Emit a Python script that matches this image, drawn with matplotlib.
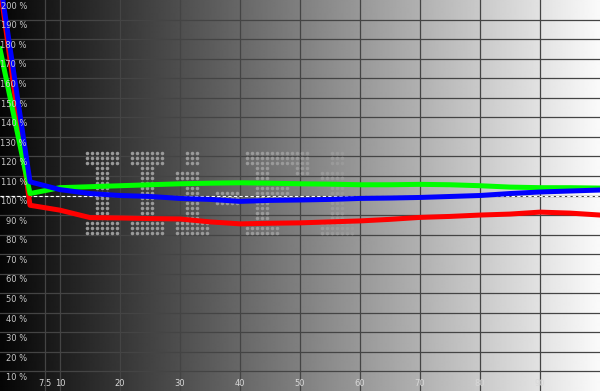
import matplotlib
matplotlib.use("Agg")
import matplotlib.pyplot as plt
import numpy as np

# measured points (x = stimulus level %, y = relative level %)
x_level = [0, 5, 10, 15, 20, 25, 30, 35, 40, 45, 50,
           55, 60, 65, 70, 75, 80, 85, 90, 95, 100]
red = [207, 95, 92.5, 88.7, 88.5, 88.2, 88, 86.5, 85.5, 85.8, 86,
       86.5, 87, 87.8, 88.8, 89.3, 90, 90.5, 91.5, 91, 90]
green = [175, 101, 104, 104.5, 105, 105.5, 106, 106.3, 106.5, 106.3, 106,
         105.8, 105.5, 105.5, 105.7, 105.5, 105, 104.3, 104, 104, 103.8]
blue = [210, 107, 103, 101, 100, 99.5, 98.5, 98, 97, 97.5, 97.7,
        98, 98.5, 98.7, 99, 99.5, 100, 101, 101.8, 102.3, 102.8]

x_ticks = [7.5, 10, 20, 30, 40, 50, 60, 70, 80, 90]
x_tick_labels = ["7.5", "10", "20", "30", "40", "50", "60", "70", "80", "90"]
y_ticks = list(range(10, 210, 10))

# dot-matrix watermark glyphs (17 rows each)
GLYPHS = {
    "I": ["#######"] * 3 + ["..###.."] * 11 + ["#######"] * 3,
    "i": ["..###.."] * 3 + ["......."] + ["#####.."] * 2 +
         ["..###.."] * 8 + ["#######"] * 3,
    "-": ["....."] * 8 + ["#####"] * 3 + ["....."] * 6,
    "F": ["#############"] * 3 + ["..###.....###"] * 2 + ["..###........"] * 2 +
         ["..#######...."] * 3 + ["..###........"] * 4 + ["#######......"] * 3,
}
watermark = [("I", 0), ("I", 9), ("i", 18), ("-", 26), ("F", 32), ("i", 47)]

fig = plt.figure(figsize=(6, 3.91), dpi=100)
ax = fig.add_axes([0, 0, 1, 1])
ax.set_xlim(0, 100)
ax.set_ylim(0, 200)
ax.axis('off')

# black -> white background ramp
grad = np.linspace(0.02, 0.98, 600)[None, :]
ax.imshow(grad, extent=[0, 100, 0, 200], aspect='auto', cmap='gray',
          vmin=0, vmax=1, zorder=0, interpolation='bilinear')

for v in x_ticks:
    ax.axvline(v, color='#444444', lw=0.9, zorder=1)
for v in y_ticks[:-1]:
    ax.axhline(v, color='#444444', lw=0.9, zorder=1)

# watermark dots, 5 px pitch
px_x = 100 / 600
px_y = 200 / 391
wx0, wy0 = 86.7 * px_x, 200 - 153.3 * px_y
dx, dy = [], []
for ch, off in watermark:
    for r, row in enumerate(GLYPHS[ch]):
        for c, cell in enumerate(row):
            if cell == "#":
                dx.append(wx0 + (off + c) * 5 * px_x)
                dy.append(wy0 - r * 5 * px_y)
ax.scatter(dx, dy, s=6.5, color='#9a9a9a', linewidths=0, zorder=2)

ax.axhline(100, color='white', lw=0.8, ls=(0, (3, 2)), zorder=3)

ax.plot(x_level, red, color='#ff0000', lw=3.6, zorder=4)
ax.plot(x_level, green, color='#00ff00', lw=3.6, zorder=5)
ax.plot(x_level, blue, color='#0000ff', lw=3.6, zorder=6)

for v in y_ticks:
    ax.text(4.5, v - 0.9, f"{v} %", ha='right', va='top', fontsize=6,
            color='#c8c8c8', zorder=7)
for v, lab in zip(x_ticks, x_tick_labels):
    ax.text(v, 3.6, lab, ha='center', va='center', fontsize=6,
            color='#d8d8d8', zorder=7)

fig.savefig("out.png", dpi=100)
